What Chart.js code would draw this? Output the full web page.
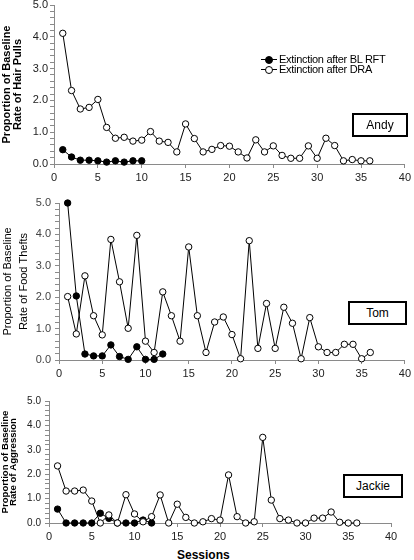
<!DOCTYPE html>
<html>
<head>
<meta charset="utf-8">
<script src="https://cdn.jsdelivr.net/npm/chart.js@4/dist/chart.umd.min.js"></script>
<style>
body{margin:0;width:414px;height:560px;overflow:hidden;background:#fff;position:relative;font-family:"Liberation Sans",Arial,sans-serif;color:#000}
canvas{position:absolute;left:0}
.box{position:absolute;border:2px solid #000;box-sizing:border-box;text-align:center;font-size:12px;line-height:20px;background:#fff}
.leg{position:absolute;left:261px;height:11px;font-size:11px;line-height:11px;white-space:nowrap}
.leg i.ln{position:absolute;left:0;top:5px;width:16px;height:1px;background:#000}
.leg i.pt{position:absolute;left:4px;top:1.5px;width:6px;height:6px;border:1px solid #000;border-radius:50%}
.leg span{position:absolute;left:18px;top:0;letter-spacing:-0.3px}
#sessions{position:absolute;left:177px;top:549px;font-size:12px;font-weight:bold;line-height:12px}
</style>
</head>
<body>
<canvas id="andy" width="414" height="193" style="top:-7px"></canvas>
<canvas id="tom" width="414" height="191" style="top:191px"></canvas>
<canvas id="jackie" width="414" height="156" style="top:389px"></canvas>

<div class="leg" style="top:54px"><i class="ln"></i><i class="pt" style="background:#000"></i><span>Extinction after BL RFT</span></div>
<div class="leg" style="top:64px"><i class="ln"></i><i class="pt" style="background:#fff"></i><span>Extinction after DRA</span></div>

<div class="box" style="left:352px;top:113px;width:56px;height:24px">Andy</div>
<div class="box" style="left:348px;top:301px;width:59px;height:24px">Tom</div>
<div class="box" style="left:343px;top:474px;width:60px;height:24px">Jackie</div>
<div id="sessions">Sessions</div>

<script>
// valores (sessao = indice+1)
const andyRft=[0.45,0.22,0.12,0.12,0.10,0.06,0.10,0.06,0.10,0.10]
const andyDra=[4.11,2.31,1.73,1.78,2.03,1.15,0.81,0.84,0.72,0.75,1.02,0.72,0.68,0.38,1.26,0.80,0.38,0.46,0.58,0.56,0.38,0.19,0.76,0.38,0.57,0.27,0.18,0.18,0.57,0.18,0.81,0.58,0.10,0.14,0.10,0.10]

const tomRft=[5.0,2.04,0.19,0.13,0.13,0.48,0.11,0.02,0.42,0.02,0.02,0.19]
const tomDra=[2.02,0.83,2.68,1.41,0.80,3.84,2.49,1.01,3.97,0.60,0.24,2.17,1.41,0.60,3.60,1.41,0.24,1.21,1.37,0.81,0.04,3.80,0.37,1.80,0.37,1.68,1.17,0.04,1.35,0.42,0.24,0.24,0.50,0.50,0.04,0.24]

const jackieRft=[0.57,0.0,0.0,0.0,0.0,0.40,0.19,0.0,0.0,0.0,0.12,0.0]
const jackieDra=[2.34,1.31,1.31,1.35,0.90,0.0,0.33,0.0,1.16,0.37,0.05,0.26,1.15,0.0,0.77,0.23,0.0,0.05,0.18,0.12,1.97,0.26,0.0,0.05,3.51,0.94,0.18,0.12,0.0,0.0,0.20,0.20,0.45,0.03,0.0,0.0]

const andyTitle=['Proportion of Baseline','Rate of Hair Pulls']
const tomTitle=['Proportion of Baseline','Rate of Food Thefts']
const jackieTitle=['Proportion of Baseline','Rate of Aggression']

const xMax=40, xStep=5, yMax=5, yStep=0.2

function serie(vals,fill){
return {
data:vals.map((v,i)=>({x:i+1,y:v})),
borderColor:'#000',borderWidth:1,
pointRadius:3.2,pointBorderWidth:1,pointBorderColor:'#000',
pointBackgroundColor:fill,backgroundColor:fill,tension:0,clip:false
}
}

function painel(id,rft,dra,p){
let datasets=[serie(rft,'#000'),serie(dra,'#fff')]
if(p.openTop)datasets.reverse()
new Chart(document.getElementById(id),{
type:'line',
data:{datasets:datasets},
options:{
responsive:false,animation:false,
layout:{padding:{top:12,right:p.right,left:0,bottom:0}},
plugins:{legend:{display:false},tooltip:{enabled:false}},
scales:{
x:{type:'linear',min:0,max:xMax,
afterFit:s=>{s.height=22},
ticks:{stepSize:xStep,autoSkip:false,maxRotation:0,padding:3,color:'#222',font:{family:'Liberation Sans',size:11}},
grid:{drawOnChartArea:false,tickLength:4,color:'#8a8a8a'},
border:{color:'#8a8a8a'}},
y:{min:0,max:yMax,
afterFit:s=>{s.width=p.left},
ticks:{stepSize:yStep,autoSkip:false,padding:p.tickPad,color:p.tickColor,font:{family:'Liberation Sans',size:p.tickSize},
callback:v=>Math.abs(v-Math.round(v))<1e-6?v.toFixed(1):''},
grid:{drawOnChartArea:false,tickLength:4,color:'#8a8a8a'},
border:{color:'#8a8a8a'},
title:{display:true,text:p.title,color:'#000',padding:{top:p.titlePad,bottom:0},
font:{family:'Liberation Sans',size:p.titleSize,weight:p.titleWeight,lineHeight:p.titleLH}}}
}
}
})
}

painel('andy',andyRft,andyDra,{left:54,right:8,tickPad:2,tickSize:11,tickColor:'#222',title:andyTitle,titlePad:2,titleSize:11,titleWeight:'bold',titleLH:10.5/11})
painel('tom',tomRft,tomDra,{left:59,right:8,tickPad:4,tickSize:11,tickColor:'#444',title:tomTitle,titlePad:0,titleSize:11,titleWeight:'normal',titleLH:16/11})
painel('jackie',jackieRft,jackieDra,{left:49,right:23,tickPad:4,tickSize:10,tickColor:'#222',title:jackieTitle,titlePad:1,titleSize:9.6,titleWeight:'bold',titleLH:8.5/9.6,openTop:true})
</script>
</body>
</html>
